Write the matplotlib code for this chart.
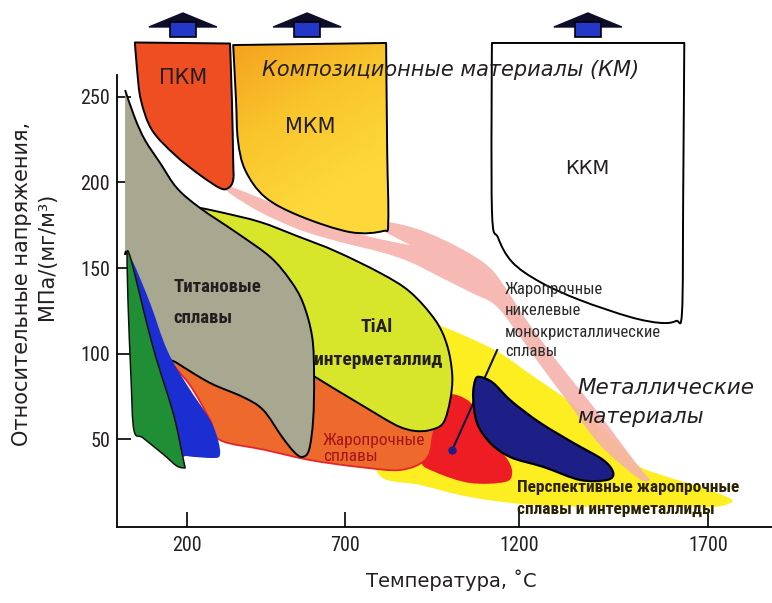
import numpy as np
import matplotlib
matplotlib.use("Agg")
import matplotlib.pyplot as plt
import matplotlib.transforms as mtransforms
from matplotlib.path import Path
from matplotlib.patches import PathPatch, Polygon
from matplotlib.colors import LinearSegmentedColormap
from matplotlib import font_manager

# ---- axes ----
x_ticks = [200, 700, 1200, 1700]
y_ticks = [50, 100, 150, 200, 250]
x_label = "Температура, ˚C"
y_label_1 = "Относительные напряжения,"
y_label_2 = "МПа/(мг/м³)"

# the temperature axis of the original is hand drawn and not quite linear
warp_T = [-400, 200, 700, 1200, 1700, 2400]
warp_u = [-119.6, 70, 228, 402, 591, 855.6]

# ---- regions: temperature (C), specific strength ----
pkm_T = [35, 336, 342, 346, 346, 330, 304, 241, 162, 89, 54, 42]
pkm_V = [281.7, 281.1, 248.1, 213.1, 201.4, 196.7, 196.7, 204.3, 216, 230.6, 248.1, 265.6]

mkm_T = [346, 818, 821, 824, 809, 714, 558, 447, 384, 361, 355]
mkm_V = [280.2, 281.4, 218.9, 176.9, 171.6, 171, 180.3, 191.4, 207.2, 224.7, 248.1]

kkm_T = [1122, 1637, 1634, 1631, 1615, 1573, 1494, 1361, 1256, 1180, 1140, 1122]
kkm_V = [281.4, 281.4, 189.7, 124.4, 119.1, 118, 121.4, 131.3, 141.8, 153.5, 167.5, 183.9]

ti_T = [4, 35, 67, 115, 168, 241, 358, 463, 526, 567, 596, 602, 599, 586, 564, 539,
        501, 441, 377, 273, 168, 124, 60, 13, 4]
ti_V = [253.9, 237.6, 224.7, 211.3, 196.7, 185.1, 170.5, 156.5, 143, 129.6, 109.7, 86.4,
        61.3, 43.8, 39.7, 42.6, 51.3, 67.1, 74.7, 82.9, 94.6, 100.4, 131.3, 157.6, 157.6]

tial_T = [241, 304, 431, 548, 675, 801, 887, 959, 993, 1008, 1002, 982, 944, 901, 858,
          809, 714, 611, 526, 399]
tial_V = [185.1, 182.7, 176.9, 168.7, 159.4, 147.1, 136.0, 119.6, 105.0, 87.5, 72.9, 59.5,
          55.4, 54.9, 57.2, 62.5, 74.1, 85.8, 96.3, 131.3]

hot_T = [124, 178, 399, 558, 608, 801, 944, 950, 930, 858, 743, 589, 447, 304, 273, 209]
hot_V = [101, 102.2, 84.6, 84.6, 93.4, 75.9, 64.2, 49.6, 37.9, 32.1, 33.8, 37.9, 43.8,
         49.6, 61.3, 81.7]

red_T = [987, 1059, 1088, 1131, 1168, 1180, 1160, 1059, 959, 916, 916]
red_V = [75.9, 71.8, 58.4, 46.7, 37.9, 30.3, 25.1, 24.5, 30.9, 37.9, 61.3]

yel_T = [916, 982, 1051, 1145, 1240, 1327, 1414, 1486, 1520, 1592, 1679, 1750, 1763,
         1718, 1626, 1414, 1237, 1059, 916, 801, 801]
yel_V = [119.6, 115.6, 109.8, 100.4, 86.4, 73, 57.2, 42, 33.9, 28.1, 22.2, 16.4, 13.4,
         10.5, 10.5, 10.5, 11.6, 16.3, 23.3, 28.6, 49.6]

navy_T = [1088, 1125, 1174, 1256, 1343, 1422, 1449, 1433, 1361, 1264, 1174, 1117, 1079,
          1068, 1074]
navy_V = [86.4, 83, 73, 59.6, 48, 38, 30.5, 26.3, 26.3, 33.9, 39.7, 47.9, 59.6, 74.7, 84.6]

pink_T = [330, 431, 558, 684, 786, 887, 815, 815, 916, 1030, 1117, 1174, 1229, 1308,
          1414, 1507, 1547, 1515, 1414, 1335, 1256, 1189, 1131, 1059, 973, 887, 801,
          684, 558, 431, 330]
pink_V = [197.9, 190.9, 181.5, 173.4, 167.5, 163.4, 171, 176.9, 172.2, 161.7, 150,
          134.3, 116.7, 93.4, 64.2, 36.8, 26.3, 27.4, 46.7, 70, 93.4, 113.8, 128.4,
          136, 144.8, 153.5, 159.4, 165.2, 172.2, 182.7, 194.4]

blue_T = [10, 29, 83, 137, 200, 273, 298, 304, 282, 200, 184, 156, 92, 35]
blue_V = [157.6, 153.5, 129.6, 102.1, 81.7, 61.3, 49.6, 40.8, 39.1, 40.2, 42, 65.4, 104, 140.2]

green_T = [10, 23, 92, 156, 184, 194, 168, 124, 61, 32, 23, 13]
green_V = [158.8, 154.7, 104, 65.4, 42, 33.3, 34.4, 41.4, 50.8, 55.4, 84.6, 131.3]

arrow_T = [187, 580, 1382]
arrow_V = 284.9

pointer_T = [1137, 1008]
pointer_V = [102.1, 43.8]

# fonts
names = {f.name for f in font_manager.fontManager.ttflist}
narrow = "DejaVu Sans"
for cand in ["Liberation Sans Narrow", "Roboto Condensed", "Open Sans Condensed"]:
    if cand in names:
        narrow = cand
        break


def smooth_path(xs, ys, corners=(), closed=True):
    p = np.column_stack([xs, ys]).astype(float)
    n = len(p)
    m = (np.roll(p, -1, 0) - np.roll(p, 1, 0)) / 2.0
    for c in corners:
        m[c % n] = 0
    verts = [p[0]]
    codes = [Path.MOVETO]
    for i in range(n if closed else n - 1):
        j = (i + 1) % n
        verts += [p[i] + m[i] / 3, p[j] - m[j] / 3, p[j]]
        codes += [Path.CURVE4] * 3
    if closed:
        verts.append(p[0])
        codes.append(Path.CLOSEPOLY)
    return Path(verts, codes)


def blob(ax, xs, ys, color, z, edge="none", lw=1.4, corners=(), alpha=1.0):
    pp = PathPatch(smooth_path(xs, ys, corners), facecolor=color, edgecolor=edge,
                   lw=lw, zorder=z, alpha=alpha, joinstyle="round")
    ax.add_patch(pp)
    return pp


fig = plt.figure(figsize=(7.72, 6.03), dpi=100)
ax = fig.add_axes([117 / 772, 76.5 / 603, 655 / 772, 526.5 / 603])
ax.set_xscale("function", functions=(lambda t: np.interp(t, warp_T, warp_u),
                                     lambda u: np.interp(u, warp_u, warp_T)))

blob(ax, yel_T, yel_V, "#fcee21", 1)
blob(ax, pink_T, pink_V, "#f5b2ab", 2, corners=(5, 6, 16), alpha=0.9)
blob(ax, red_T, red_V, "#ee1d24", 3)
blob(ax, hot_T, hot_V, "#ee6a2c", 4, edge="#e8242a", lw=1.3)
blob(ax, tial_T, tial_V, "#d8e62b", 5, edge="black", lw=1.4, corners=(0,))

# titanium: no outline along the left cut
blob(ax, ti_T, ti_V, "#a8a78f", 6, corners=(0, len(ti_T) - 1))
ax.add_patch(PathPatch(smooth_path(ti_T, ti_V, corners=(0, len(ti_T) - 1), closed=False),
                       fill=False, edgecolor="black", lw=1.4, zorder=6.1))

blob(ax, blue_T, blue_V, "#1b2ed2", 7)
blob(ax, green_T, green_V, "#1f8e35", 8, edge="#111111", lw=1.1, corners=(0, 5))

ax.plot(pointer_T, pointer_V, color="#14143c", lw=1.5, zorder=8.5)
ax.plot(pointer_T[1], pointer_V[1], marker="o", ms=5, color="#1e1e87", zorder=8.6)
blob(ax, navy_T, navy_V, "#1e1e87", 9, edge="black", lw=1.6)

blob(ax, pkm_T, pkm_V, "#ee4e22", 10, edge="black", lw=1.4, corners=(0, 1))

# metal matrix composites: orange -> yellow shading
mkm = blob(ax, mkm_T, mkm_V, "none", 10.1, edge="black", lw=1.4, corners=(0, 1))
xn, yn = np.meshgrid(np.linspace(0, 1, 60), np.linspace(0, 1, 60))
shade = np.clip(0.45 * xn + 0.9 * yn, 0, 1)
mkm_cmap = LinearSegmentedColormap.from_list("mkm", ["#f5a21f", "#f9c52c", "#fdd83a"])
im = ax.imshow(shade, cmap=mkm_cmap, extent=(min(mkm_T), max(mkm_T), min(mkm_V), max(mkm_V)),
               origin="upper", aspect="auto", interpolation="bilinear", zorder=10)
im.set_clip_path(mkm)

blob(ax, kkm_T, kkm_V, "white", 10, edge="black", lw=1.4, corners=(0, 1))

# arrows above the composite boxes
for t in arrow_T:
    tr = fig.dpi_scale_trans + mtransforms.ScaledTranslation(t, arrow_V, ax.transData)
    ax.add_patch(Polygon([(-0.34, 0.10), (0.34, 0.10), (0, 0.24)], closed=True,
                         facecolor="#0d0d2a", edgecolor="#0d0d2a", lw=1, transform=tr,
                         zorder=11, clip_on=False))
    ax.add_patch(Polygon([(-0.13, 0), (0.13, 0), (0.13, 0.15), (-0.13, 0.15)], closed=True,
                         facecolor="#2338c8", edgecolor="black", lw=1.2, transform=tr,
                         zorder=12, clip_on=False))

tc = "#231f20"
ax.text(187, 260.9, "ПКМ", fontsize=15, color=tc, ha="center", va="center", zorder=20)
ax.text(589, 232.3, "МКМ", fontsize=15, color=tc, ha="center", va="center", zorder=20)
ax.text(1380, 208.3, "ККМ", fontsize=14, color=tc, ha="center", va="center", zorder=20)
ax.text(1002, 265.6, "Композиционные материалы (КМ)", fontsize=15, style="italic",
        color=tc, ha="center", va="center", zorder=20)
ax.text(156, 139, "Титановые", fontsize=13.5, family=narrow, weight="bold", color=tc,
        ha="left", va="center", zorder=20)
ax.text(156, 120.9, "сплавы", fontsize=13.5, family=narrow, weight="bold", color=tc,
        ha="left", va="center", zorder=20)
ax.text(792, 115.6, "TiAl", fontsize=14, family=narrow, weight="bold", color=tc,
        ha="center", va="center", zorder=20)
ax.text(795, 96.3, "интерметаллид", fontsize=14, family=narrow, weight="bold", color=tc,
        ha="center", va="center", zorder=20)
ax.text(630, 49.6, "Жаропрочные", fontsize=12.5, family=narrow, color="#a3151b",
        ha="left", va="center", zorder=20)
ax.text(630, 39.7, "сплавы", fontsize=12.5, family=narrow, color="#a3151b",
        ha="left", va="center", zorder=20)
for v, s in zip([137.2, 125.5, 112.6, 101.0],
                ["Жаропрочные", "никелевые", "монокристаллические", "сплавы"]):
    ax.text(1160, v, s, fontsize=12, family=narrow, color="#2a2a2a", ha="left",
            va="center", zorder=20)
ax.text(1353, 80, "Металлические", fontsize=15.5, style="italic", color=tc, ha="left",
        va="center", zorder=20)
ax.text(1353, 63.1, "материалы", fontsize=15.5, style="italic", color=tc, ha="left",
        va="center", zorder=20)
ax.text(1195, 21.6, "Перспективные жаропрочные", fontsize=12.5, family=narrow,
        weight="bold", color="#2b2100", ha="left", va="center", zorder=20)
ax.text(1195, 8.8, "сплавы и интерметаллиды", fontsize=12.5, family=narrow,
        weight="bold", color="#2b2100", ha="left", va="center", zorder=20)

# axes styling
ax.set_xlim(-21.6, 1869)
ax.set_ylim(-0.9, 306.5)
for s in ["top", "right"]:
    ax.spines[s].set_visible(False)
for s in ["left", "bottom"]:
    ax.spines[s].set_linewidth(1.3)
    ax.spines[s].set_zorder(15)
ax.spines["left"].set_bounds(-0.9, 262.7)
ax.set_xticks(x_ticks)
ax.set_yticks(y_ticks)
ax.xaxis.set_minor_locator(matplotlib.ticker.NullLocator())
ax.tick_params(axis="x", direction="in", length=11, width=1.2, pad=7, labelsize=14.5)
ax.tick_params(axis="y", direction="in", length=10, width=1.2, pad=5, labelsize=14.5)
for lab in ax.get_xticklabels() + ax.get_yticklabels():
    lab.set_family(narrow)
    lab.set_color(tc)

fig.text(451 / 772, 1 - 580 / 603, x_label, fontsize=14, color=tc, ha="center", va="center")
fig.text(22 / 772, 1 - 284 / 603, y_label_1, fontsize=15, color=tc, ha="center",
         va="center", rotation=90)
fig.text(47 / 772, 1 - 256 / 603, y_label_2, fontsize=15, color=tc, ha="center",
         va="center", rotation=90)

fig.savefig("out.png", dpi=100)
